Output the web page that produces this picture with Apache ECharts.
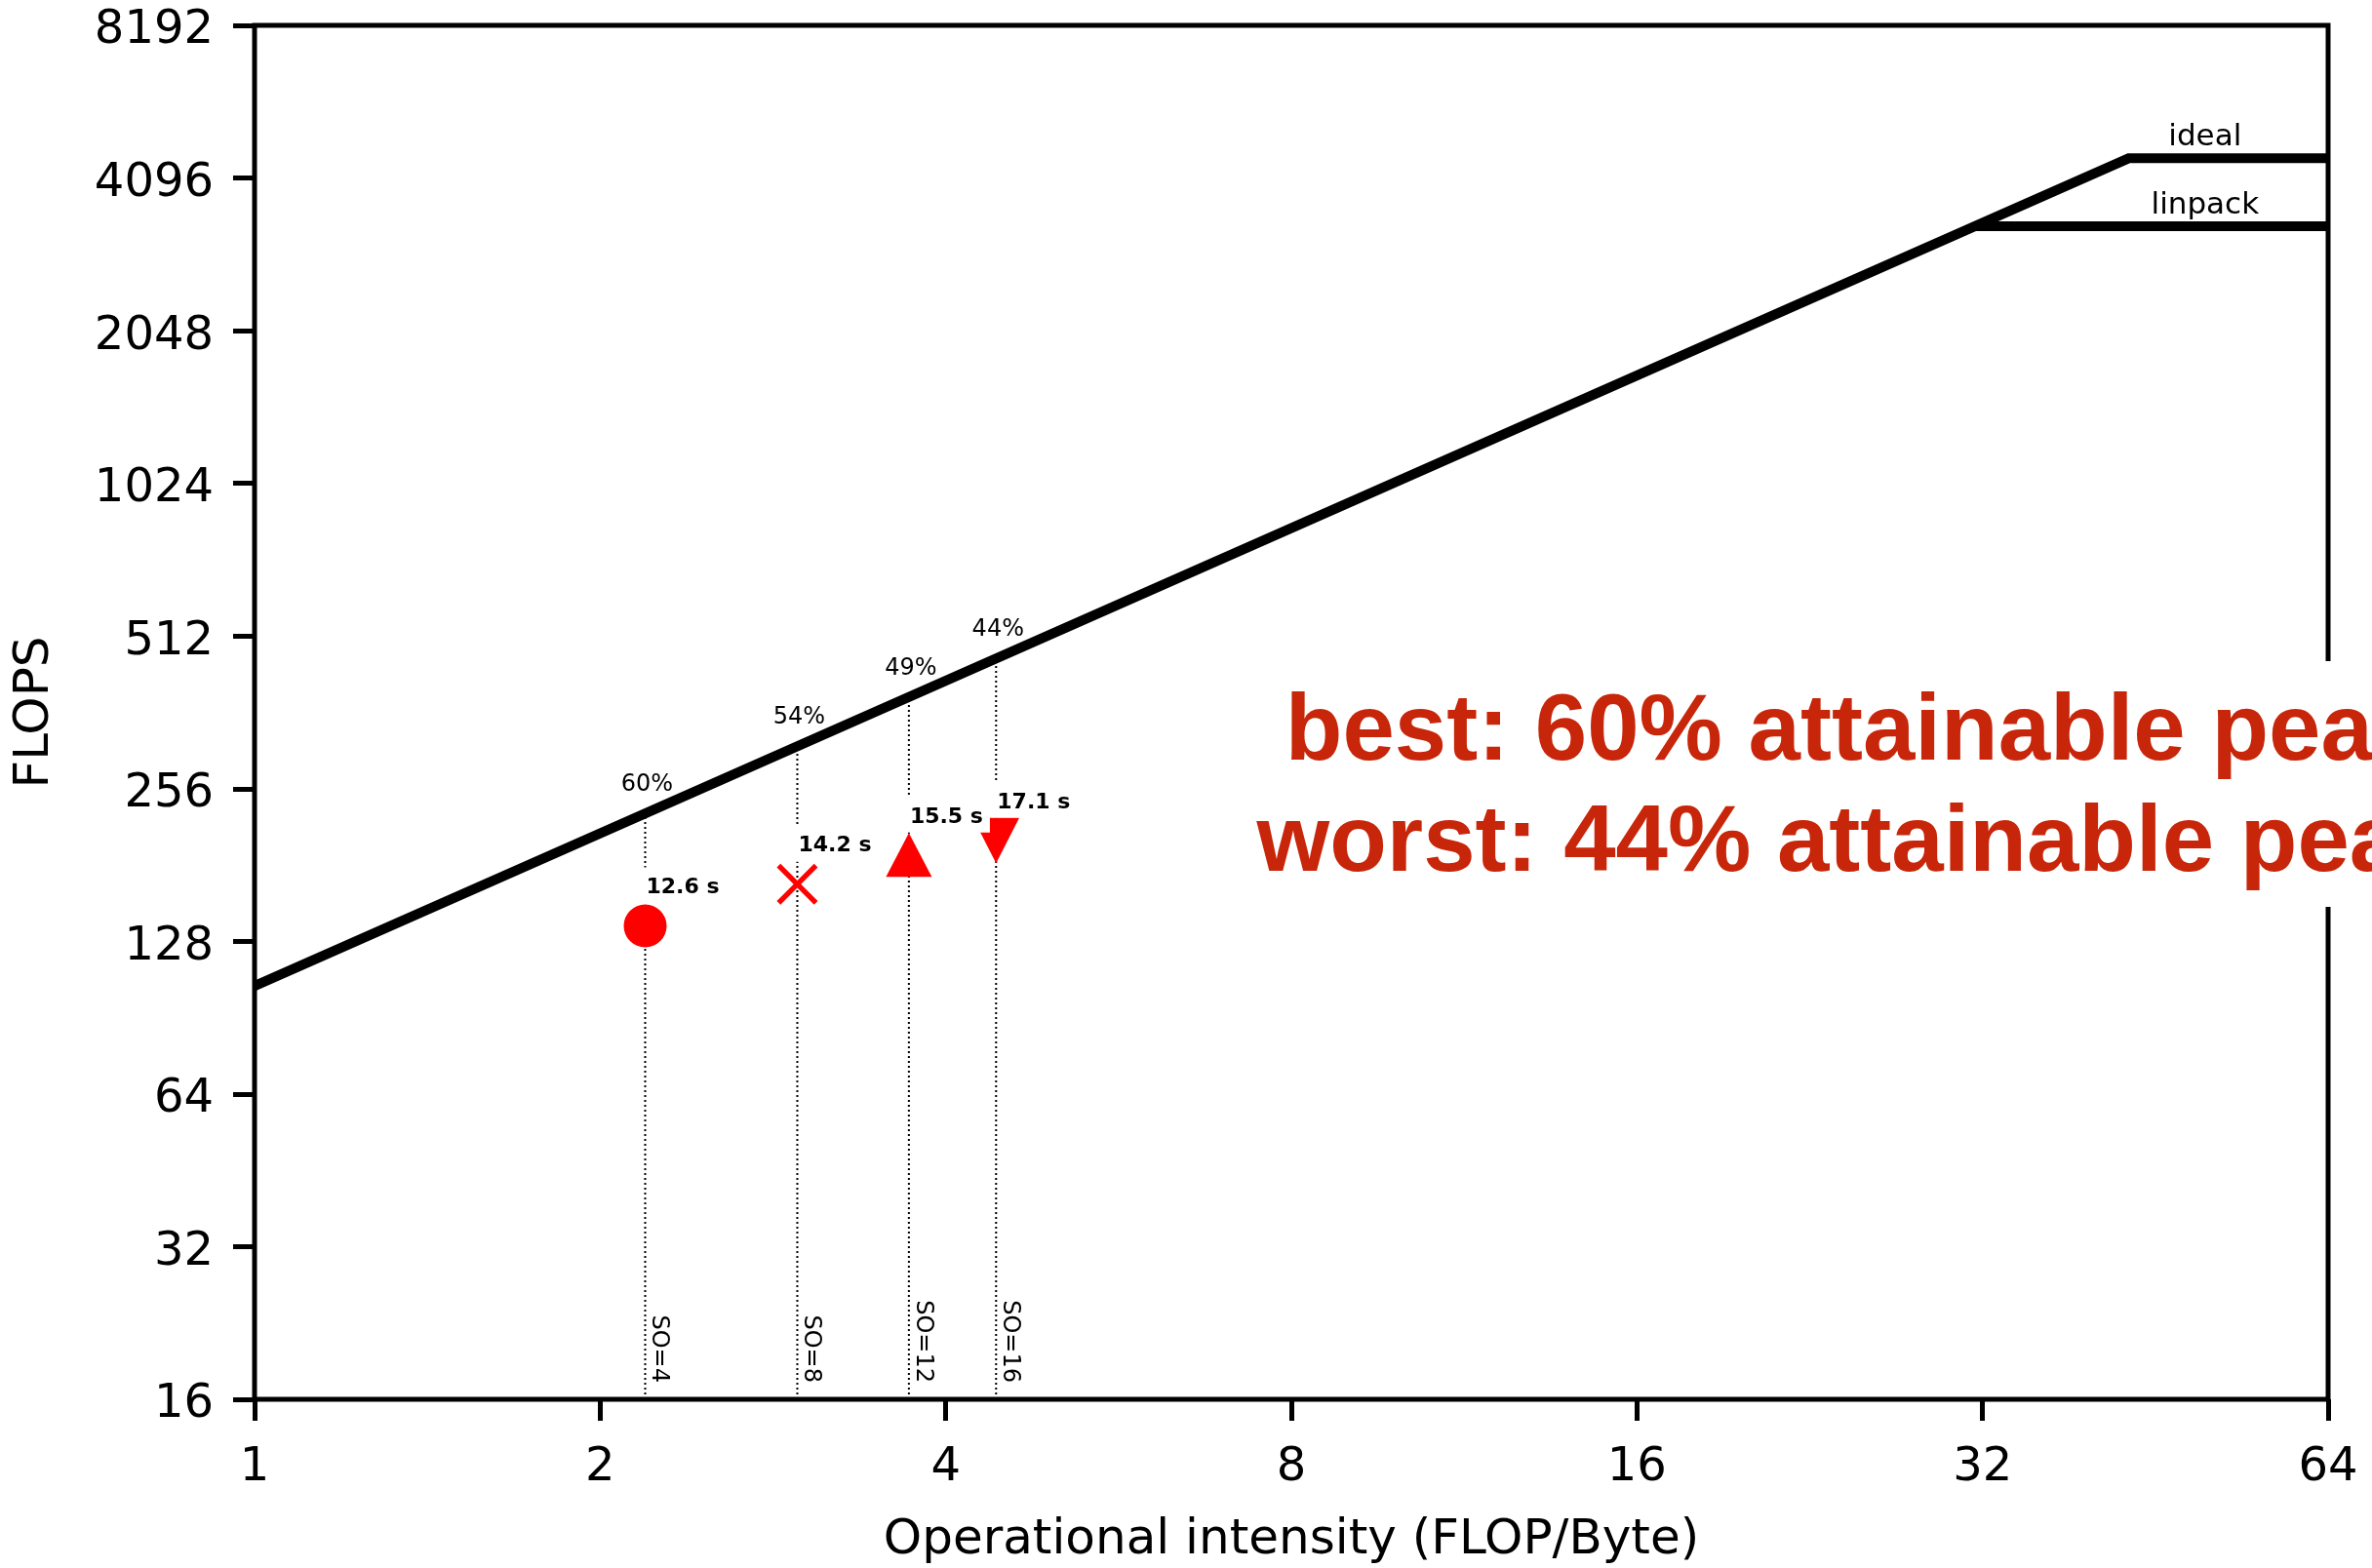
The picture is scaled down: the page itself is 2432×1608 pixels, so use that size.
<!DOCTYPE html>
<html>
<head>
<meta charset="utf-8">
<script src="https://cdn.jsdelivr.net/npm/echarts@6/dist/echarts.min.js"></script>
<style>
html,body{margin:0;padding:0;background:#fff;}
#chart{width:2432px;height:1608px;}
</style>
</head>
<body>
<div id="chart"></div>
<script>
// ---- data ----
const xTicks = [1, 2, 4, 8, 16, 32, 64];
const yTicks = [16, 32, 64, 128, 256, 512, 1024, 2048, 4096, 8192];
const opIntensity = [2.189, 2.970, 3.715, 4.425];
const achievedFlops = [137.3, 165.9, 189.4, 202.4];
const roofAtPoint = [228.8, 310.4, 388.2, 462.4];
const runtimes = ['12.6 s', '14.2 s', '15.5 s', '17.1 s'];
const pctOfPeak = ['60%', '54%', '49%', '44%'];
const soLabels = ['SO=4', 'SO=8', 'SO=12', 'SO=16'];
const idealX = [1, 42.9, 64];
const idealY = [104.5, 4480, 4480];
const linpackX = [31.5, 64];
const linpackY = [3290, 3290];
const roofLabelX = [50, 50];
const roofLabelY = [4480, 3290];
const roofLabelText = ['ideal', 'linpack'];
const summaryLines = ['best: 60% attainable peak', 'worst: 44% attainable peak'];

const FONT = '"DejaVu Sans", sans-serif';
const chart = echarts.init(document.getElementById('chart'), null, {renderer: 'canvas'});

const markerShapes = [
  {symbol: 'circle', size: [44, 44], rotate: 0},
  {symbol: 'path://M0,0.9 L0.9,0 L5,4.1 L9.1,0 L10,0.9 L5.9,5 L10,9.1 L9.1,10 L5,5.9 L0.9,10 L0,9.1 L4.1,5 Z', size: [42, 42], rotate: 0},
  {symbol: 'triangle', size: [47, 45], rotate: 0},
  {symbol: 'triangle', size: [48, 47], rotate: 180}
];

const series = [];

// dotted guide lines from the x axis up to the roofline
opIntensity.forEach((x, i) => {
  series.push({
    type: 'line', silent: true, symbol: 'none', z: 1,
    data: [[x, yTicks[0]], [x, roofAtPoint[i]]],
    lineStyle: {color: '#000', width: 2, type: [2, 3]}
  });
});

// rooflines
series.push({
  type: 'line', symbol: 'none', z: 3, silent: true,
  data: idealX.map((x, i) => [x, idealY[i]]),
  lineStyle: {color: '#000', width: 10, join: 'miter', cap: 'butt'}
});
series.push({
  type: 'line', symbol: 'none', z: 3, silent: true,
  data: linpackX.map((x, i) => [x, linpackY[i]]),
  lineStyle: {color: '#000', width: 10, join: 'miter', cap: 'butt'}
});

// invisible anchor points used only to carry text labels
function textSeries(points, labelOpt) {
  return {
    type: 'scatter', symbol: 'circle', symbolSize: 0.01, z: 4, clip: false, silent: true,
    itemStyle: {color: '#000', opacity: 1},
    data: points,
    label: Object.assign({
      show: true, position: 'inside', formatter: p => p.value[2],
      fontFamily: FONT, color: '#000', opacity: 1
    }, labelOpt)
  };
}

// roofline labels
series.push(textSeries(
  roofLabelX.map((x, i) => [x, roofLabelY[i], roofLabelText[i]]),
  {align: 'center', verticalAlign: 'bottom', offset: [0, -6], fontSize: 31, lineHeight: 31}
));

// percentage labels above the roofline
series.push(textSeries(
  opIntensity.map((x, i) => [x, roofAtPoint[i], pctOfPeak[i]]),
  {align: 'center', verticalAlign: 'bottom', offset: [2, -17], fontSize: 24, lineHeight: 24}
));

// SO labels at the bottom, rotated (offset is in the rotated frame)
series.push(textSeries(
  opIntensity.map((x, i) => [x, yTicks[0], soLabels[i]]),
  {align: 'right', verticalAlign: 'bottom', rotate: -90, offset: [-17, -2], fontSize: 24, lineHeight: 24}
));

// measured points
opIntensity.forEach((x, i) => {
  const m = markerShapes[i];
  series.push({
    type: 'scatter', z: 5, silent: true,
    symbol: m.symbol, symbolSize: m.size, symbolRotate: m.rotate,
    itemStyle: {color: '#ff0000', opacity: 1},
    data: [[x, achievedFlops[i], runtimes[i]]],
    label: {
      show: true, position: 'inside', align: 'left', verticalAlign: 'bottom',
      offset: [-6, -23], formatter: p => p.value[2],
      fontFamily: FONT, fontSize: 22, fontWeight: 'bold', color: '#000', lineHeight: 22,
      backgroundColor: '#fff', padding: [10, 7, 5, 7]
    }
  });
});

const option = {
  backgroundColor: '#fff',
  animation: false,
  grid: {
    left: 261, right: 45, top: 26, bottom: 173, outerBoundsMode: 'none', containLabel: false,
    show: true, borderColor: '#000', borderWidth: 5, backgroundColor: 'transparent'
  },
  xAxis: {
    type: 'log', logBase: 2, min: xTicks[0], max: xTicks[xTicks.length - 1], splitNumber: 6,
    name: 'Operational intensity (FLOP/Byte)', nameLocation: 'middle', nameGap: 120,
    nameTextStyle: {fontFamily: FONT, fontSize: 50, color: '#000'},
    axisLine: {show: false},
    axisTick: {show: true, inside: false, length: 22, lineStyle: {color: '#000', width: 5}},
    axisLabel: {fontFamily: FONT, fontSize: 48, color: '#000', margin: 47, formatter: v => String(Math.round(v))},
    splitLine: {show: false}, minorTick: {show: false}
  },
  yAxis: {
    type: 'log', logBase: 2, min: yTicks[0], max: yTicks[yTicks.length - 1], splitNumber: 9,
    name: 'FLOPS', nameLocation: 'middle', nameGap: 200, nameRotate: 90,
    nameTextStyle: {fontFamily: FONT, fontSize: 50, color: '#000'},
    axisLine: {show: false},
    axisTick: {show: true, inside: false, length: 22, lineStyle: {color: '#000', width: 5}},
    axisLabel: {
      fontFamily: FONT, fontSize: 48, color: '#000', margin: 42,
      formatter: v => '{t|' + Math.round(v) + '}',
      rich: {t: {fontFamily: FONT, fontSize: 48, color: '#000', lineHeight: 48, padding: [12, 0, 0, 0]}}
    },
    splitLine: {show: false}, minorTick: {show: false}
  },
  graphic: [{
    type: 'text', x: 1902, y: 678, z: 100, silent: true,
    style: {
      text: summaryLines.join('\n'),
      font: 'bold 96px "Liberation Sans", Arial, sans-serif',
      fill: '#C8260A', align: 'center', verticalAlign: 'top', lineHeight: 114,
      backgroundColor: '#fff', padding: [18, 20, 6, 20]
    }
  }],
  series: series
};
chart.setOption(option);
</script>
</body>
</html>
